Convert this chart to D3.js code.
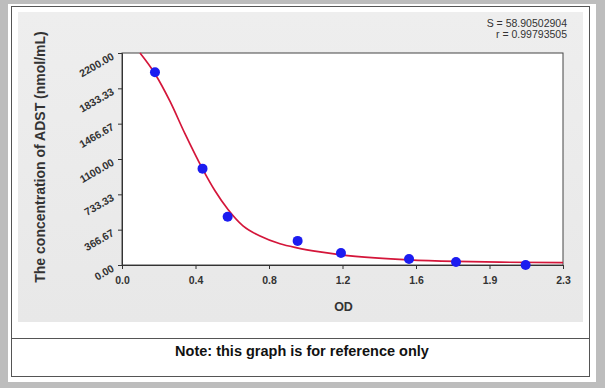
<!DOCTYPE html>
<html>
<head>
<meta charset="utf-8">
<script src="https://cdn.jsdelivr.net/npm/d3@7"></script>
<style>
  body { margin: 0; background: #bdbdbd; }
  svg { display: block; font-family: Arial, "Liberation Sans", sans-serif; }
</style>
</head>
<body>
<div id="chart"></div>
<script>
// standards
const odValues = [0.172, 0.420, 0.551, 0.916, 1.142, 1.497, 1.742, 2.105];
const concValues = [2000, 1000, 500, 250, 125, 62.5, 31.25, 0];

// fitted curve
const curveOD = [0.094, 0.172, 0.250, 0.329, 0.422, 0.485, 0.553, 0.631, 0.720, 0.824, 0.913, 1.033, 1.142, 1.320, 1.497, 1.742, 1.971, 2.300];
const curveConc = [2200, 1985, 1700, 1360, 990, 770, 575, 405, 300, 220, 178, 136, 106, 74, 53, 37, 29, 25];

const xTickLabels = ["0.0", "0.4", "0.8", "1.2", "1.6", "1.9", "2.3"];
const yTickLabels = ["0.00", "366.67", "733.33", "1100.00", "1466.67", "1833.33", "2200.00"];

const fitStats = ["S = 58.90502904", "r = 0.99793505"];
const xTitle = "OD";
const yTitle = "The concentration of ADST (nmol/mL)";
const note = "Note: this graph is for reference only";

const W = 605, H = 388;
const plot = { left: 122, right: 563, top: 53, bottom: 265 };

const svg = d3.select("#chart").append("svg")
  .attr("width", W)
  .attr("height", H);

// outer frame + white card
svg.append("rect").attr("width", W).attr("height", H).attr("fill", "#bdbdbd");
svg.append("rect").attr("x", 8).attr("y", 4).attr("width", 588).attr("height", 378).attr("fill", "#fff");
svg.append("rect").attr("x", 11.5).attr("y", 6.5).attr("width", 578).attr("height", 370)
  .attr("fill", "none").attr("stroke", "#555").attr("stroke-width", 1);
svg.append("line").attr("x1", 12).attr("x2", 590).attr("y1", 338.5).attr("y2", 338.5)
  .attr("stroke", "#555");

// light gray panel behind the chart
const grad = svg.append("defs").append("linearGradient").attr("id", "panel")
  .attr("x1", 0).attr("y1", 0).attr("x2", 0).attr("y2", 1);
grad.append("stop").attr("offset", "0%").attr("stop-color", "#eeeeee");
grad.append("stop").attr("offset", "100%").attr("stop-color", "#e8e8e8");
svg.append("rect").attr("x", 18).attr("y", 12).attr("width", 565).attr("height", 310)
  .attr("fill", "url(#panel)");

// plot area
svg.append("rect")
  .attr("x", plot.left).attr("y", plot.top)
  .attr("width", plot.right - plot.left).attr("height", plot.bottom - plot.top)
  .attr("fill", "#fff").attr("stroke", "#444").attr("stroke-width", 1);

const x = d3.scaleLinear().domain([0, 2.3]).range([plot.left, plot.right]);
const y = d3.scaleLinear().domain([0, 2200]).range([plot.bottom, plot.top]);

const xMajor = d3.range(7).map(i => i * 2.3 / 6);
const yMajor = d3.range(7).map(i => i * 2200 / 6);
const xMinor = d3.range(25).map(i => i * 2.3 / 24);
const yMinor = d3.range(25).map(i => i * 2200 / 24);

// x axis
const gx = svg.append("g").attr("transform", `translate(0,${plot.bottom})`);
gx.call(d3.axisBottom(x).tickValues(xMinor).tickSize(3).tickFormat(""));
gx.call(d3.axisBottom(x).tickValues(xMajor).tickSize(4)
  .tickFormat((d, i) => xTickLabels[i]));
gx.selectAll(".domain").attr("stroke", "#333");
gx.selectAll("line").attr("stroke", "#333");
gx.selectAll("text")
  .attr("font-size", 10.5).attr("font-weight", "bold").attr("fill", "#333")
  .attr("dy", "1.1em");

// y axis
const gy = svg.append("g").attr("transform", `translate(${plot.left},0)`);
gy.call(d3.axisLeft(y).tickValues(yMinor).tickSize(3).tickFormat(""));
gy.call(d3.axisLeft(y).tickValues(yMajor).tickSize(4)
  .tickFormat((d, i) => yTickLabels[i]));
gy.selectAll(".domain").attr("stroke", "#333");
gy.selectAll("line").attr("stroke", "#333");
gy.selectAll(".tick text")
  .attr("font-size", 10.5).attr("font-weight", "bold").attr("fill", "#333")
  .attr("text-anchor", "end")
  .attr("x", -10).attr("dy", "0.55em")
  .attr("transform", "rotate(-30,-10,0)");

// fitted curve
const curvePts = curveOD.map((d, i) => [d, curveConc[i]]);
const line = d3.line()
  .x(d => x(d[0]))
  .y(d => y(d[1]))
  .curve(d3.curveMonotoneX);

svg.append("path")
  .datum(curvePts)
  .attr("fill", "none")
  .attr("stroke", "#d4163a")
  .attr("stroke-width", 1.7)
  .attr("d", line);

// standard points
svg.append("g").selectAll("circle")
  .data(odValues.map((d, i) => [d, concValues[i]]))
  .join("circle")
  .attr("cx", d => x(d[0]))
  .attr("cy", d => y(d[1]))
  .attr("r", 5)
  .attr("fill", "#1c1cf0");

// axis titles
svg.append("text")
  .attr("x", (plot.left + plot.right) / 2 + 1).attr("y", 311)
  .attr("text-anchor", "middle")
  .attr("font-size", 12.5).attr("font-weight", "bold").attr("fill", "#333")
  .text(xTitle);

svg.append("text")
  .attr("transform", "translate(45,157) rotate(-90)")
  .attr("text-anchor", "middle")
  .attr("font-size", 14).attr("font-weight", "bold").attr("fill", "#333")
  .text(yTitle);

// fit statistics
svg.selectAll(".stat")
  .data(fitStats)
  .join("text")
  .attr("class", "stat")
  .attr("x", 567).attr("y", (d, i) => 27 + i * 11)
  .attr("text-anchor", "end")
  .attr("font-size", 10.5).attr("fill", "#333")
  .text(d => d);

// footer note
svg.append("text")
  .attr("x", 302).attr("y", 356)
  .attr("text-anchor", "middle")
  .attr("font-size", 14.5).attr("font-weight", "bold").attr("fill", "#111")
  .text(note);
</script>
</body>
</html>
